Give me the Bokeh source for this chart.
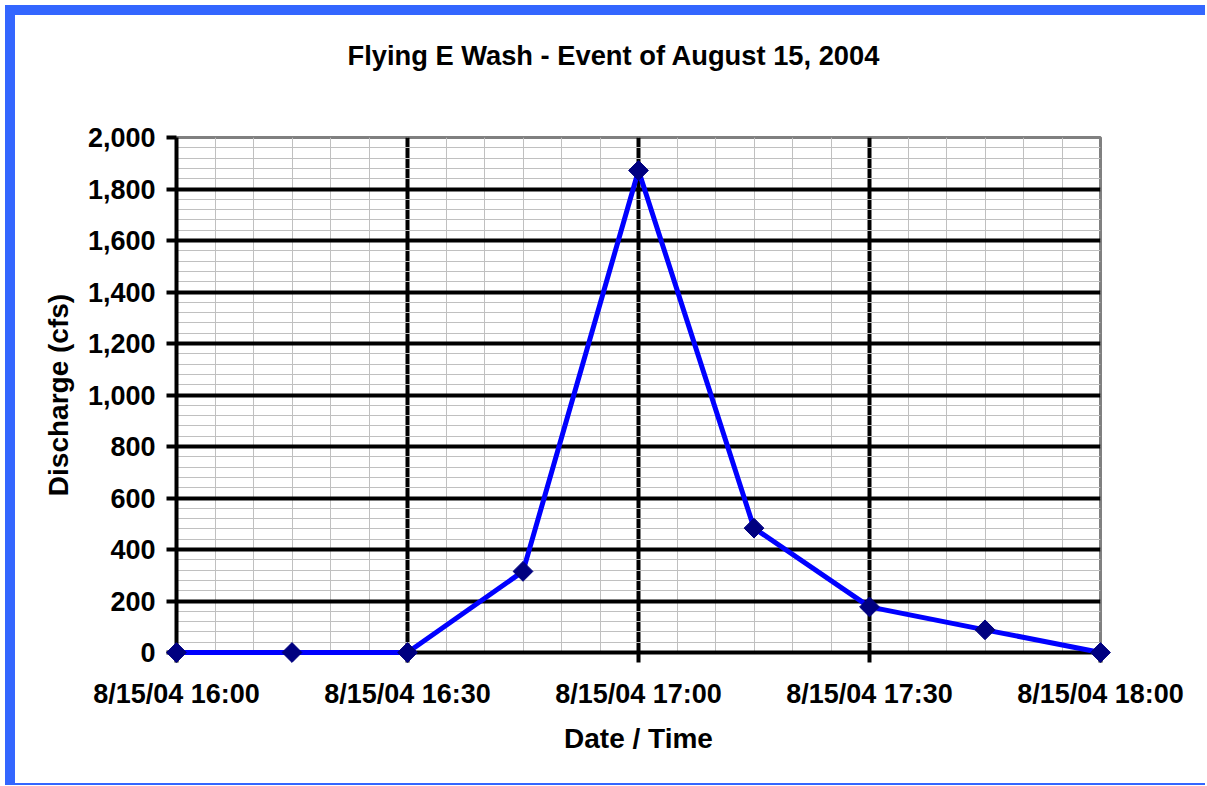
import pandas as pd
from bokeh.plotting import figure
from bokeh.models import FixedTicker, NumeralTickFormatter, Range1d, Title
from bokeh.embed import file_html
from bokeh.resources import INLINE

# ---- data ----
times = ["8/15/04 16:00", "8/15/04 16:15", "8/15/04 16:30", "8/15/04 16:45",
         "8/15/04 17:00", "8/15/04 17:15", "8/15/04 17:30", "8/15/04 17:45",
         "8/15/04 18:00"]
discharge = [0, 0, 0, 315, 1872, 483, 177, 88, 0]
tick_labels = ["8/15/04 16:00", "8/15/04 16:30", "8/15/04 17:00",
               "8/15/04 17:30", "8/15/04 18:00"]
y_ticks = [0, 200, 400, 600, 800, 1000, 1200, 1400, 1600, 1800, 2000]
title_text = "Flying E Wash - Event of August 15, 2004"

t0 = pd.to_datetime(times[0], format="%m/%d/%y %H:%M")
def minutes(s):
    return (pd.to_datetime(s, format="%m/%d/%y %H:%M") - t0).total_seconds() / 60.0

xs = [minutes(t) for t in times]
x_major = [minutes(t) for t in tick_labels]
x_minor = [x_major[0] + 5 * i for i in range(int((x_major[-1] - x_major[0]) / 5) + 1)]
y_minor = [40 * i for i in range(int(y_ticks[-1] / 40) + 1)]

FONT = "Liberation Sans"
BLUE = "#3366FF"

p = figure(frame_width=924, frame_height=515,
           min_border_left=161, min_border_right=105,
           min_border_top=122, min_border_bottom=131,
           x_range=Range1d(x_major[0], x_major[-1]),
           y_range=Range1d(y_ticks[0], y_ticks[-1]),
           output_backend="svg", toolbar_location=None,
           background_fill_color="white", border_fill_color="white")
p.styles = {"margin-left": "5px", "margin-top": "5px",
            "border-left": "10px solid " + BLUE, "border-top": "10px solid " + BLUE,
            "border-bottom": "2px solid " + BLUE}

# chart title (outermost) and a blank spacer title between it and the plot area
p.title.text = title_text
p.title.text_font = FONT
p.title.text_font_style = "bold"
p.title.text_font_size = "27.3px"
p.title.text_color = "black"
p.title.align = "left"
p.title.offset = 171
p.title.standoff = 42
p.add_layout(Title(text=" ", text_font=FONT, text_font_size="27.3px",
                   standoff=13), "above")

p.outline_line_color = "#808080"
p.outline_line_width = 3

p.xaxis.ticker = FixedTicker(ticks=x_major, minor_ticks=x_minor)
p.xaxis.major_label_overrides = {x: lab for x, lab in zip(x_major, tick_labels)}
p.yaxis.ticker = FixedTicker(ticks=y_ticks, minor_ticks=y_minor)
p.yaxis.formatter = NumeralTickFormatter(format="0,0")

for ax in (p.xaxis, p.yaxis):
    ax.axis_line_color = "black"
    ax.axis_line_width = 4
    ax.major_tick_line_color = "black"
    ax.major_tick_line_width = 4
    ax.major_tick_out = 10
    ax.major_tick_in = 0
    ax.minor_tick_out = 0
    ax.minor_tick_in = 0
    ax.major_label_text_font = FONT
    ax.major_label_text_font_style = "bold"
    ax.major_label_text_font_size = "27px"
    ax.major_label_text_color = "black"
    ax.axis_label_text_font = FONT
    ax.axis_label_text_font_style = "bold"
    ax.axis_label_text_font_size = "28px"
    ax.axis_label_text_color = "black"

p.xaxis.axis_label = "Date / Time"
p.yaxis.axis_label = "Discharge (cfs)"
p.xaxis.major_label_standoff = 16
p.xaxis.axis_label_standoff = 11
p.yaxis.major_label_standoff = 11
p.yaxis.axis_label_standoff = 11

for g in (p.xgrid, p.ygrid):
    g.grid_line_color = "black"
    g.grid_line_width = 4
    g.minor_grid_line_color = "#C0C0C0"
    g.minor_grid_line_width = 1
p.xgrid.ticker = FixedTicker(ticks=x_major, minor_ticks=x_minor)
p.ygrid.ticker = FixedTicker(ticks=y_ticks, minor_ticks=y_minor)

p.line(xs, discharge, line_color="#0000FF", line_width=5, level="overlay")
p.scatter(xs, discharge, marker="square", size=14, angle=0.785398,
          fill_color="#000080", line_color="#000080", level="overlay")

open("out.html", "w").write(file_html(p, INLINE))
